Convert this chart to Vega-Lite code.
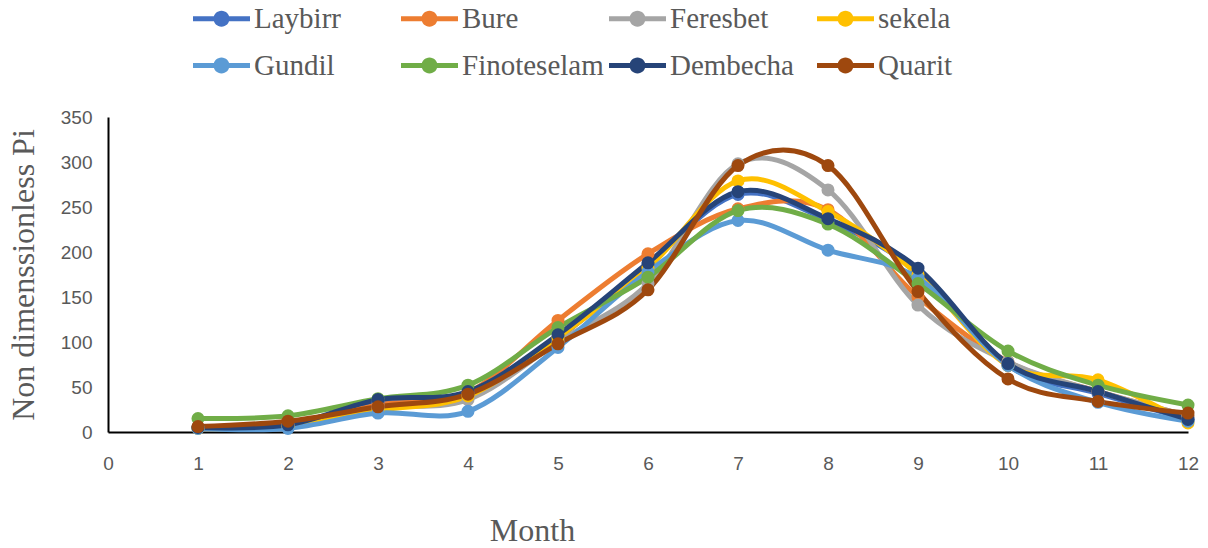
{
  "$schema": "https://vega.github.io/schema/vega-lite/v6.json",
  "width": 1080,
  "height": 315,
  "autosize": "none",
  "padding": {"left": 108, "top": 117, "right": 20, "bottom": 116},
  "background": "white",
  "config": {
    "view": {"stroke": null},
    "legend": {"labelFont": "Liberation Serif", "labelFontSize": 29, "labelColor": "#595959"}
  },
  "data": {
    "values": [
      {"month": 1, "station": "Laybirr", "pi": 5}, {"month": 2, "station": "Laybirr", "pi": 7}, {"month": 3, "station": "Laybirr", "pi": 32}, {"month": 4, "station": "Laybirr", "pi": 42}, {"month": 5, "station": "Laybirr", "pi": 104}, {"month": 6, "station": "Laybirr", "pi": 186}, {"month": 7, "station": "Laybirr", "pi": 264}, {"month": 8, "station": "Laybirr", "pi": 235}, {"month": 9, "station": "Laybirr", "pi": 178}, {"month": 10, "station": "Laybirr", "pi": 74}, {"month": 11, "station": "Laybirr", "pi": 43}, {"month": 12, "station": "Laybirr", "pi": 14},
      {"month": 1, "station": "Bure", "pi": 5}, {"month": 2, "station": "Bure", "pi": 8}, {"month": 3, "station": "Bure", "pi": 30}, {"month": 4, "station": "Bure", "pi": 44}, {"month": 5, "station": "Bure", "pi": 124}, {"month": 6, "station": "Bure", "pi": 198}, {"month": 7, "station": "Bure", "pi": 248}, {"month": 8, "station": "Bure", "pi": 247}, {"month": 9, "station": "Bure", "pi": 150}, {"month": 10, "station": "Bure", "pi": 78}, {"month": 11, "station": "Bure", "pi": 45}, {"month": 12, "station": "Bure", "pi": 18},
      {"month": 1, "station": "Feresbet", "pi": 5}, {"month": 2, "station": "Feresbet", "pi": 8}, {"month": 3, "station": "Feresbet", "pi": 27}, {"month": 4, "station": "Feresbet", "pi": 36}, {"month": 5, "station": "Feresbet", "pi": 100}, {"month": 6, "station": "Feresbet", "pi": 165}, {"month": 7, "station": "Feresbet", "pi": 298}, {"month": 8, "station": "Feresbet", "pi": 269}, {"month": 9, "station": "Feresbet", "pi": 141}, {"month": 10, "station": "Feresbet", "pi": 78}, {"month": 11, "station": "Feresbet", "pi": 45}, {"month": 12, "station": "Feresbet", "pi": 18},
      {"month": 1, "station": "sekela", "pi": 4}, {"month": 2, "station": "sekela", "pi": 6}, {"month": 3, "station": "sekela", "pi": 24}, {"month": 4, "station": "sekela", "pi": 40}, {"month": 5, "station": "sekela", "pi": 105}, {"month": 6, "station": "sekela", "pi": 182}, {"month": 7, "station": "sekela", "pi": 279}, {"month": 8, "station": "sekela", "pi": 245}, {"month": 9, "station": "sekela", "pi": 175}, {"month": 10, "station": "sekela", "pi": 74}, {"month": 11, "station": "sekela", "pi": 58}, {"month": 12, "station": "sekela", "pi": 10},
      {"month": 1, "station": "Gundil", "pi": 4}, {"month": 2, "station": "Gundil", "pi": 4}, {"month": 3, "station": "Gundil", "pi": 21}, {"month": 4, "station": "Gundil", "pi": 23}, {"month": 5, "station": "Gundil", "pi": 94}, {"month": 6, "station": "Gundil", "pi": 178}, {"month": 7, "station": "Gundil", "pi": 235}, {"month": 8, "station": "Gundil", "pi": 202}, {"month": 9, "station": "Gundil", "pi": 171}, {"month": 10, "station": "Gundil", "pi": 74}, {"month": 11, "station": "Gundil", "pi": 33}, {"month": 12, "station": "Gundil", "pi": 12},
      {"month": 1, "station": "Finoteselam", "pi": 15}, {"month": 2, "station": "Finoteselam", "pi": 18}, {"month": 3, "station": "Finoteselam", "pi": 37}, {"month": 4, "station": "Finoteselam", "pi": 52}, {"month": 5, "station": "Finoteselam", "pi": 116}, {"month": 6, "station": "Finoteselam", "pi": 172}, {"month": 7, "station": "Finoteselam", "pi": 246}, {"month": 8, "station": "Finoteselam", "pi": 231}, {"month": 9, "station": "Finoteselam", "pi": 165}, {"month": 10, "station": "Finoteselam", "pi": 90}, {"month": 11, "station": "Finoteselam", "pi": 52}, {"month": 12, "station": "Finoteselam", "pi": 30},
      {"month": 1, "station": "Dembecha", "pi": 5}, {"month": 2, "station": "Dembecha", "pi": 8}, {"month": 3, "station": "Dembecha", "pi": 36}, {"month": 4, "station": "Dembecha", "pi": 45}, {"month": 5, "station": "Dembecha", "pi": 108}, {"month": 6, "station": "Dembecha", "pi": 188}, {"month": 7, "station": "Dembecha", "pi": 267}, {"month": 8, "station": "Dembecha", "pi": 237}, {"month": 9, "station": "Dembecha", "pi": 182}, {"month": 10, "station": "Dembecha", "pi": 76}, {"month": 11, "station": "Dembecha", "pi": 45}, {"month": 12, "station": "Dembecha", "pi": 14},
      {"month": 1, "station": "Quarit", "pi": 6}, {"month": 2, "station": "Quarit", "pi": 12}, {"month": 3, "station": "Quarit", "pi": 28}, {"month": 4, "station": "Quarit", "pi": 42}, {"month": 5, "station": "Quarit", "pi": 98}, {"month": 6, "station": "Quarit", "pi": 158}, {"month": 7, "station": "Quarit", "pi": 296}, {"month": 8, "station": "Quarit", "pi": 296}, {"month": 9, "station": "Quarit", "pi": 156}, {"month": 10, "station": "Quarit", "pi": 59}, {"month": 11, "station": "Quarit", "pi": 34}, {"month": 12, "station": "Quarit", "pi": 21}
    ]
  },
  "encoding": {
    "x": {
      "field": "month", "type": "quantitative",
      "scale": {"domain": [0, 12], "nice": false, "zero": false},
      "axis": {
        "values": [0, 1, 2, 3, 4, 5, 6, 7, 8, 9, 10, 11, 12],
        "grid": false, "ticks": false,
        "domainColor": "#000000", "domainWidth": 2,
        "labelFont": "Liberation Sans", "labelFontSize": 19, "labelColor": "#595959",
        "labelPadding": 22, "labelFlush": false,
        "title": "Month", "titleFont": "Liberation Serif", "titleFontSize": 32,
        "titleFontWeight": "normal", "titleColor": "#595959",
        "titleX": 424, "titleY": 108, "titleAnchor": "middle", "titleAlign": "center", "titleBaseline": "alphabetic"
      }
    },
    "y": {
      "field": "pi", "type": "quantitative",
      "scale": {"domain": [0, 350], "nice": false},
      "axis": {
        "values": [0, 50, 100, 150, 200, 250, 300, 350],
        "grid": false, "ticks": false,
        "domainColor": "#000000", "domainWidth": 2,
        "labelFont": "Liberation Sans", "labelFontSize": 19, "labelColor": "#595959",
        "labelPadding": 16, "labelFlush": false,
        "title": "Non dimenssionless Pi", "titleFont": "Liberation Serif", "titleFontSize": 32,
        "titleFontWeight": "normal", "titleColor": "#595959", "titlePadding": 20
      }
    },
    "color": {
      "field": "station", "type": "nominal",
      "scale": {
        "domain": ["Laybirr", "Bure", "Feresbet", "sekela", "Gundil", "Finoteselam", "Dembecha", "Quarit"],
        "range": ["#4472C4", "#ED7D31", "#A5A5A5", "#FFC000", "#5B9BD5", "#70AD47", "#264478", "#9E480E"]
      },
      "legend": {
        "title": null, "orient": "none", "legendX": 85, "legendY": -127,
        "direction": "horizontal", "columns": 4, "gridAlign": "all",
        "columnPadding": 5, "rowPadding": 3, "padding": 0,
        "symbolType": "M-1,-0.09H1V0.09H-1Z M-0.28,0 A0.28,0.28 0 1,1 0.28,0 A0.28,0.28 0 1,1 -0.28,0 Z",
        "symbolSize": 3249, "symbolStrokeWidth": 0,
        "labelFont": "Liberation Serif", "labelFontSize": 29, "labelColor": "#595959",
        "labelOffset": 4, "labelLimit": 300,
        "encode": {
          "symbols": {"update": {"fill": {"scale": "color", "field": "value"}, "strokeWidth": {"value": 0}, "opacity": {"value": 1}}}
        }
      }
    }
  },
  "layer": [
    {"mark": {"type": "line", "interpolate": "cardinal", "tension": 0, "strokeWidth": 5}},
    {"mark": {"type": "point", "filled": true, "size": 170, "opacity": 1}}
  ]
}
